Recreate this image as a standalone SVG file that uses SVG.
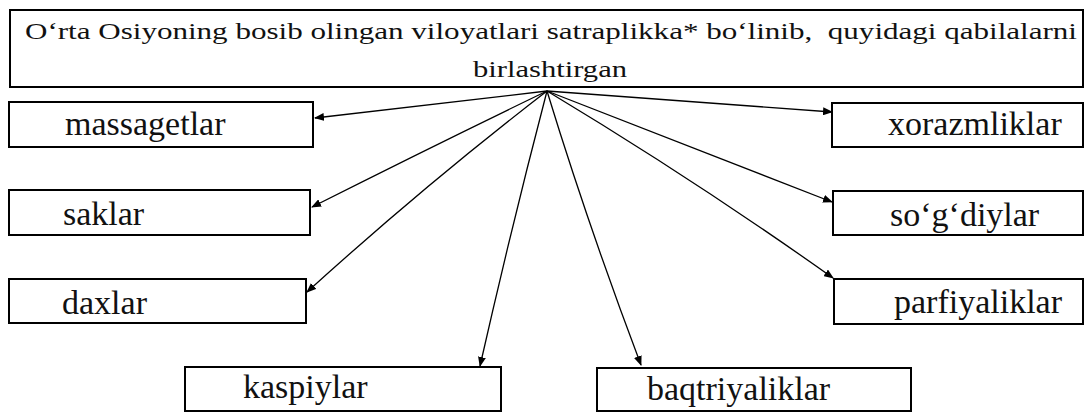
<svg xmlns="http://www.w3.org/2000/svg" width="1084" height="412" viewBox="0 0 1084 412">
<style>
.box{fill:#fff;stroke:#000;stroke-width:2}
.lbl{font-family:"Liberation Serif","Times New Roman",serif;font-size:34px;fill:#111}
.top{font-family:"Liberation Serif","Times New Roman",serif;font-size:24px;fill:#111}
.con{fill:none;stroke:#000;stroke-width:1.3}
</style>
<defs>
<marker id="ah" markerUnits="userSpaceOnUse" markerWidth="10" markerHeight="8" refX="9" refY="4" orient="auto">
<path d="M0,0 L10,4 L0,8 z" fill="#000"/>
</marker>
</defs>
<rect width="1084" height="412" fill="#fff"/>
<g id="root">
<rect class="box" x="10" y="10" width="1073" height="77"/>
<text class="top" x="25" y="39" textLength="1052" lengthAdjust="spacingAndGlyphs" xml:space="preserve">O‘rta Osiyoning bosib olingan viloyatlari satraplikka* bo‘linib,  quyidagi qabilalarni</text>
<text class="top" x="473" y="77" textLength="154" lengthAdjust="spacingAndGlyphs">birlashtirgan</text>
</g>
<g id="massagetlar"><rect class="box" x="9" y="102" width="304" height="45"/><text class="lbl" x="65" y="135">massagetlar</text></g>
<g id="saklar"><rect class="box" x="9" y="190" width="301" height="45"/><text class="lbl" x="63" y="225">saklar</text></g>
<g id="daxlar"><rect class="box" x="9" y="279" width="297" height="44"/><text class="lbl" x="62" y="314">daxlar</text></g>
<g id="kaspiylar"><rect class="box" x="185" y="367" width="316" height="44"/><text class="lbl" x="243" y="398">kaspiylar</text></g>
<g id="baqtriyaliklar"><rect class="box" x="597" y="368" width="314" height="43"/><text class="lbl" x="647" y="400">baqtriyaliklar</text></g>
<g id="xorazmliklar"><rect class="box" x="832" y="103" width="251" height="44"/><text class="lbl" x="888" y="135">xorazmliklar</text></g>
<g id="sogdiylar"><rect class="box" x="833" y="191" width="250" height="44"/><text class="lbl" x="890" y="226">so‘g‘diylar</text></g>
<g id="parfiyaliklar"><rect class="box" x="834" y="279" width="249" height="45"/><text class="lbl" x="894" y="313">parfiyaliklar</text></g>
<g id="connectors">
<path class="con" marker-end="url(#ah)" d="M547,91 L315,118"/>
<path class="con" marker-end="url(#ah)" d="M547,91 Q435,145 312,207"/>
<path class="con" marker-end="url(#ah)" d="M547,91 Q425,185 307,292"/>
<path class="con" marker-end="url(#ah)" d="M547,91 Q512,225 480,366"/>
<path class="con" marker-end="url(#ah)" d="M547,91 Q588,225 641,365"/>
<path class="con" marker-end="url(#ah)" d="M547,91 Q695,180 833,278"/>
<path class="con" marker-end="url(#ah)" d="M547,91 Q692,148 832,202"/>
<path class="con" marker-end="url(#ah)" d="M547,91 L832,112"/>
</g>
</svg>
